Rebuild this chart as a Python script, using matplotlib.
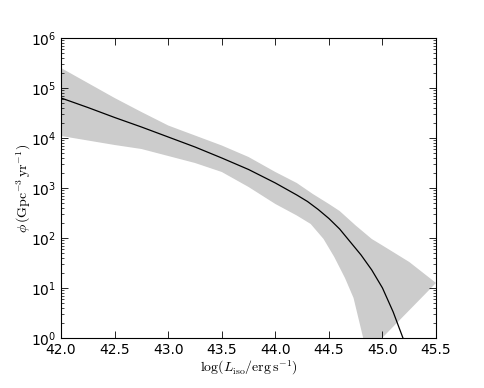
import numpy as np
import matplotlib
matplotlib.use('Agg')
import matplotlib.pyplot as plt

plt.rcParams['mathtext.fontset'] = 'cm'
plt.rcParams['font.size'] = 10

# median curve, log10(phi)
line_x = [42.0, 42.25, 42.5, 42.75, 43.0, 43.25, 43.5, 43.75, 44.0, 44.1, 44.2,
          44.3, 44.4, 44.5, 44.6, 44.7, 44.8, 44.9, 45.0, 45.1, 45.2, 45.25]
line_logphi = [4.80, 4.61, 4.41, 4.22, 4.02, 3.82, 3.60, 3.37, 3.10, 2.98, 2.86,
               2.73, 2.57, 2.39, 2.18, 1.92, 1.66, 1.36, 1.00, 0.52, -0.05, -0.4]

# upper edge of the band
up_x = [42.0, 42.25, 42.5, 42.75, 43.0, 43.25, 43.5, 43.75, 44.0, 44.2, 44.35,
        44.5, 44.6, 44.75, 44.9, 45.0, 45.25, 45.5]
up_logphi = [5.40, 5.10, 4.80, 4.52, 4.25, 4.05, 3.85, 3.62, 3.32, 3.10, 2.88,
             2.68, 2.54, 2.25, 1.98, 1.85, 1.52, 1.10]

# lower edge of the band
lo_x = [42.0, 42.5, 42.75, 43.0, 43.25, 43.5, 43.75, 44.0, 44.2, 44.33, 44.45,
        44.55, 44.65, 44.73, 44.82, 44.86]
lo_logphi = [4.04, 3.86, 3.78, 3.64, 3.50, 3.32, 3.02, 2.68, 2.45, 2.28, 1.98,
             1.62, 1.20, 0.80, 0.0, -0.3]

# build the band polygon (upper edge forward, lower edge back)
band_x = up_x + lo_x[::-1]
band_y = [10**v for v in up_logphi] + [10**v for v in lo_logphi[::-1]]

fig = plt.figure(figsize=(4.85, 3.88), dpi=100)
ax = fig.add_axes([0.126, 0.129, 0.773, 0.773])

ax.fill(band_x, band_y, color='0.8', lw=0)
ax.plot(line_x, [10**v for v in line_logphi], color='k', lw=0.9)

ax.set_yscale('log')
ax.set_xlim(42.0, 45.5)
ax.set_ylim(1, 1e6)
ax.set_xticks(np.arange(42.0, 45.51, 0.5))
ax.set_xticklabels(['%.1f' % t for t in np.arange(42.0, 45.51, 0.5)])

ax.tick_params(which='both', direction='in', top=True, right=True)
ax.tick_params(which='major', length=5, width=0.6)
ax.tick_params(which='minor', length=2.5, width=0.5)
for s in ax.spines.values():
    s.set_linewidth(0.8)

ax.set_xlabel(r'$\log(L_{\rm iso}/{\rm erg\,s^{-1}})$', labelpad=1)
ax.set_ylabel(r'$\phi\,({\rm Gpc^{-3}\,yr^{-1}})$')
ax.yaxis.set_label_coords(-0.075, 0.5)

plt.savefig('out.png', dpi=100)
